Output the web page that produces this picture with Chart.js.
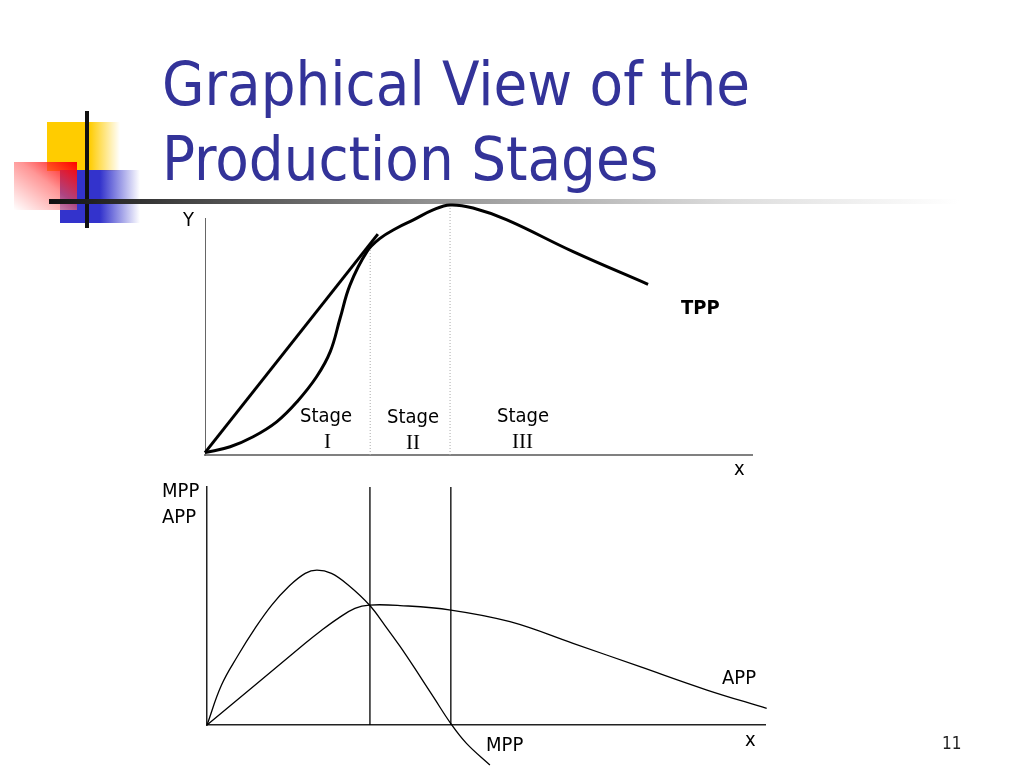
<!DOCTYPE html>
<html>
<head>
<meta charset="utf-8">
<script src="https://cdn.jsdelivr.net/npm/chart.js@4/dist/chart.umd.min.js"></script>
<style>
  body { margin: 0; background: #fff; }
  #slide { position: relative; width: 1024px; height: 768px; overflow: hidden; background: #fff;
           font-family: "DejaVu Sans Condensed", "DejaVu Sans", sans-serif; color: #000; }
  .abs { position: absolute; white-space: nowrap; }
  #title { left: 162px; top: 46px; font-size: 61px; line-height: 75px; color: #333399; }
  .lbl { font-size: 20px; line-height: 20px; }
  .roman { font-family: "Liberation Serif", "DejaVu Serif", serif; font-size: 21px; }
  canvas { position: absolute; }
</style>
</head>
<body>
<div id="slide">
  <!-- logo blocks -->
  <div class="abs" style="left:47px;top:122px;width:73px;height:49px;background:linear-gradient(to right,#ffcc00 0%,#ffcc00 58%,rgba(255,204,0,0) 100%);"></div>
  <div class="abs" style="left:60px;top:170px;width:80px;height:53px;background:linear-gradient(to right,#3333cc 0%,#3333cc 50%,rgba(51,51,204,0) 100%);"></div>
  <div class="abs" style="left:14px;top:162px;width:63px;height:48px;background:linear-gradient(to bottom left,#ff0000 0%,rgba(255,80,80,0.6) 45%,rgba(255,255,255,0.9) 100%);"></div>
  <div class="abs" style="left:85px;top:111px;width:4px;height:117px;background:#111;"></div>
  <div class="abs" style="left:49px;top:199px;width:910px;height:5px;background:linear-gradient(to right,#111 0%,#444 15%,#999 45%,#ddd 75%,#fff 100%);"></div>

  <div id="title" class="abs">Graphical View of the<br>Production Stages</div>

  <canvas id="tppChart" width="650" height="290" style="left:150px;top:190px;"></canvas>
  <canvas id="mppChart" width="650" height="298" style="left:150px;top:470px;"></canvas>

  <!-- top chart texts -->
  <div class="abs lbl" style="left:183px;top:209px;">Y</div>
  <div class="abs lbl" style="left:734px;top:458px;">x</div>
  <div class="abs lbl" style="left:681px;top:297px;font-weight:bold;">TPP</div>
  <div class="abs lbl" style="left:300px;top:405px;">Stage</div>
  <div class="abs lbl roman" style="left:324px;top:431px;">I</div>
  <div class="abs lbl" style="left:387px;top:406px;">Stage</div>
  <div class="abs lbl roman" style="left:406px;top:432px;">II</div>
  <div class="abs lbl" style="left:497px;top:405px;">Stage</div>
  <div class="abs lbl roman" style="left:512px;top:431px;">III</div>

  <!-- bottom chart texts -->
  <div class="abs lbl" style="left:162px;top:480px;">MPP</div>
  <div class="abs lbl" style="left:162px;top:506px;">APP</div>
  <div class="abs lbl" style="left:722px;top:667px;">APP</div>
  <div class="abs lbl" style="left:745px;top:729px;">x</div>
  <div class="abs lbl" style="left:486px;top:734px;">MPP</div>

  <div class="abs" style="left:942px;top:733px;font-size:17px;color:#222;">11</div>
</div>

<script>
// Top panel: total physical product (x = input, y = output)
var tppX = [0, 4.6, 8.8, 13.1, 16.8, 20.4, 22.9, 24.7, 26.5, 29.6, 32.0, 35.0, 38.1, 41.7, 44.8, 49.0, 55.2, 67.3, 81.0];
var tppY = [1, 3.5, 7.7, 14.0, 22.4, 33.0, 43.6, 57.7, 71.7, 85.8, 91.4, 95.7, 99.2, 103.4, 105.5, 104.2, 99.2, 85.8, 72.0];

// ray from origin tangent to TPP
var rayX = [0, 31.6];
var rayY = [1, 93.2];

// stage boundaries (top panel), with the height where each dotted line stops
var stageX = [30.2, 44.8];
var stageTop = [88.6, 105.5];

// Bottom panel: marginal and average physical product
var mppX = [0, 2.6, 5.6, 8.6, 11.6, 14.6, 17.6, 19.7, 22.3, 25.3, 29.1, 31.9, 34.6, 37.6, 40.6, 43.7, 46.5, 50.7];
var mppY = [0, 16.8, 29.4, 40.6, 50.4, 58.1, 63.7, 65.1, 63.7, 58.8, 50.4, 41.8, 33.0, 22.5, 11.7, 0.6, -7.7, -16.8];

var appX = [0, 17.6, 20.6, 23.5, 26.5, 29.1, 34.6, 43.7, 54.3, 65.6, 77.6, 89.6, 100.3];
var appY = [0, 34.3, 39.9, 44.8, 49.0, 50.4, 50.2, 48.3, 43.4, 34.3, 24.5, 14.7, 7.0];

// stage boundaries (bottom panel)
var stageX2 = [29.2, 43.7];

function pairs(xs, ys) {
  return xs.map(function (x, i) { return { x: x, y: ys[i] }; });
}

function vline(x, top) {
  return [{ x: x, y: 0 }, { x: x, y: top }];
}

function axes(xColor, yColor, xWidth, yWidth) {
  return {
    x: {
      type: 'linear', min: 0, max: 100,
      grid: { display: false, drawTicks: false },
      ticks: { display: false },
      border: { display: true, color: xColor, width: xWidth }
    },
    y: {
      type: 'linear', min: 0, max: 100,
      grid: { display: false, drawTicks: false },
      ticks: { display: false },
      border: { display: true, color: yColor, width: yWidth }
    }
  };
}

var baseOptions = function (padding, scales) {
  return {
    responsive: false,
    animation: false,
    events: [],
    layout: { padding: padding },
    plugins: { legend: { display: false }, tooltip: { enabled: false } },
    elements: { point: { radius: 0 } },
    scales: scales
  };
};

new Chart(document.getElementById('tppChart'), {
  type: 'line',
  data: {
    datasets: [
      { data: pairs(tppX, tppY), borderColor: '#000', borderWidth: 3, tension: 0.4, clip: false },
      { data: pairs(rayX, rayY), borderColor: '#000', borderWidth: 3, tension: 0, clip: false },
      { data: vline(stageX[0], stageTop[0]), borderColor: '#aaa', borderWidth: 1, borderDash: [1, 2], clip: false },
      { data: vline(stageX[1], stageTop[1]), borderColor: '#aaa', borderWidth: 1, borderDash: [1, 2], clip: false }
    ]
  },
  options: baseOptions({ left: 55, top: 28, right: 48, bottom: 25 }, axes('#808080', '#666', 2, 1))
});

new Chart(document.getElementById('mppChart'), {
  type: 'line',
  data: {
    datasets: [
      { data: pairs(mppX, mppY), borderColor: '#000', borderWidth: 1.3, tension: 0.4, clip: false },
      { data: pairs(appX, appY), borderColor: '#000', borderWidth: 1.3, tension: 0.4, clip: false },
      { data: vline(stageX2[0], 100), borderColor: '#000', borderWidth: 1.3, clip: false },
      { data: vline(stageX2[1], 100), borderColor: '#000', borderWidth: 1.3, clip: false }
    ]
  },
  options: baseOptions({ left: 57, top: 17, right: 35, bottom: 43 }, axes('#222', '#222', 1.5, 1.5))
});
</script>
</body>
</html>
